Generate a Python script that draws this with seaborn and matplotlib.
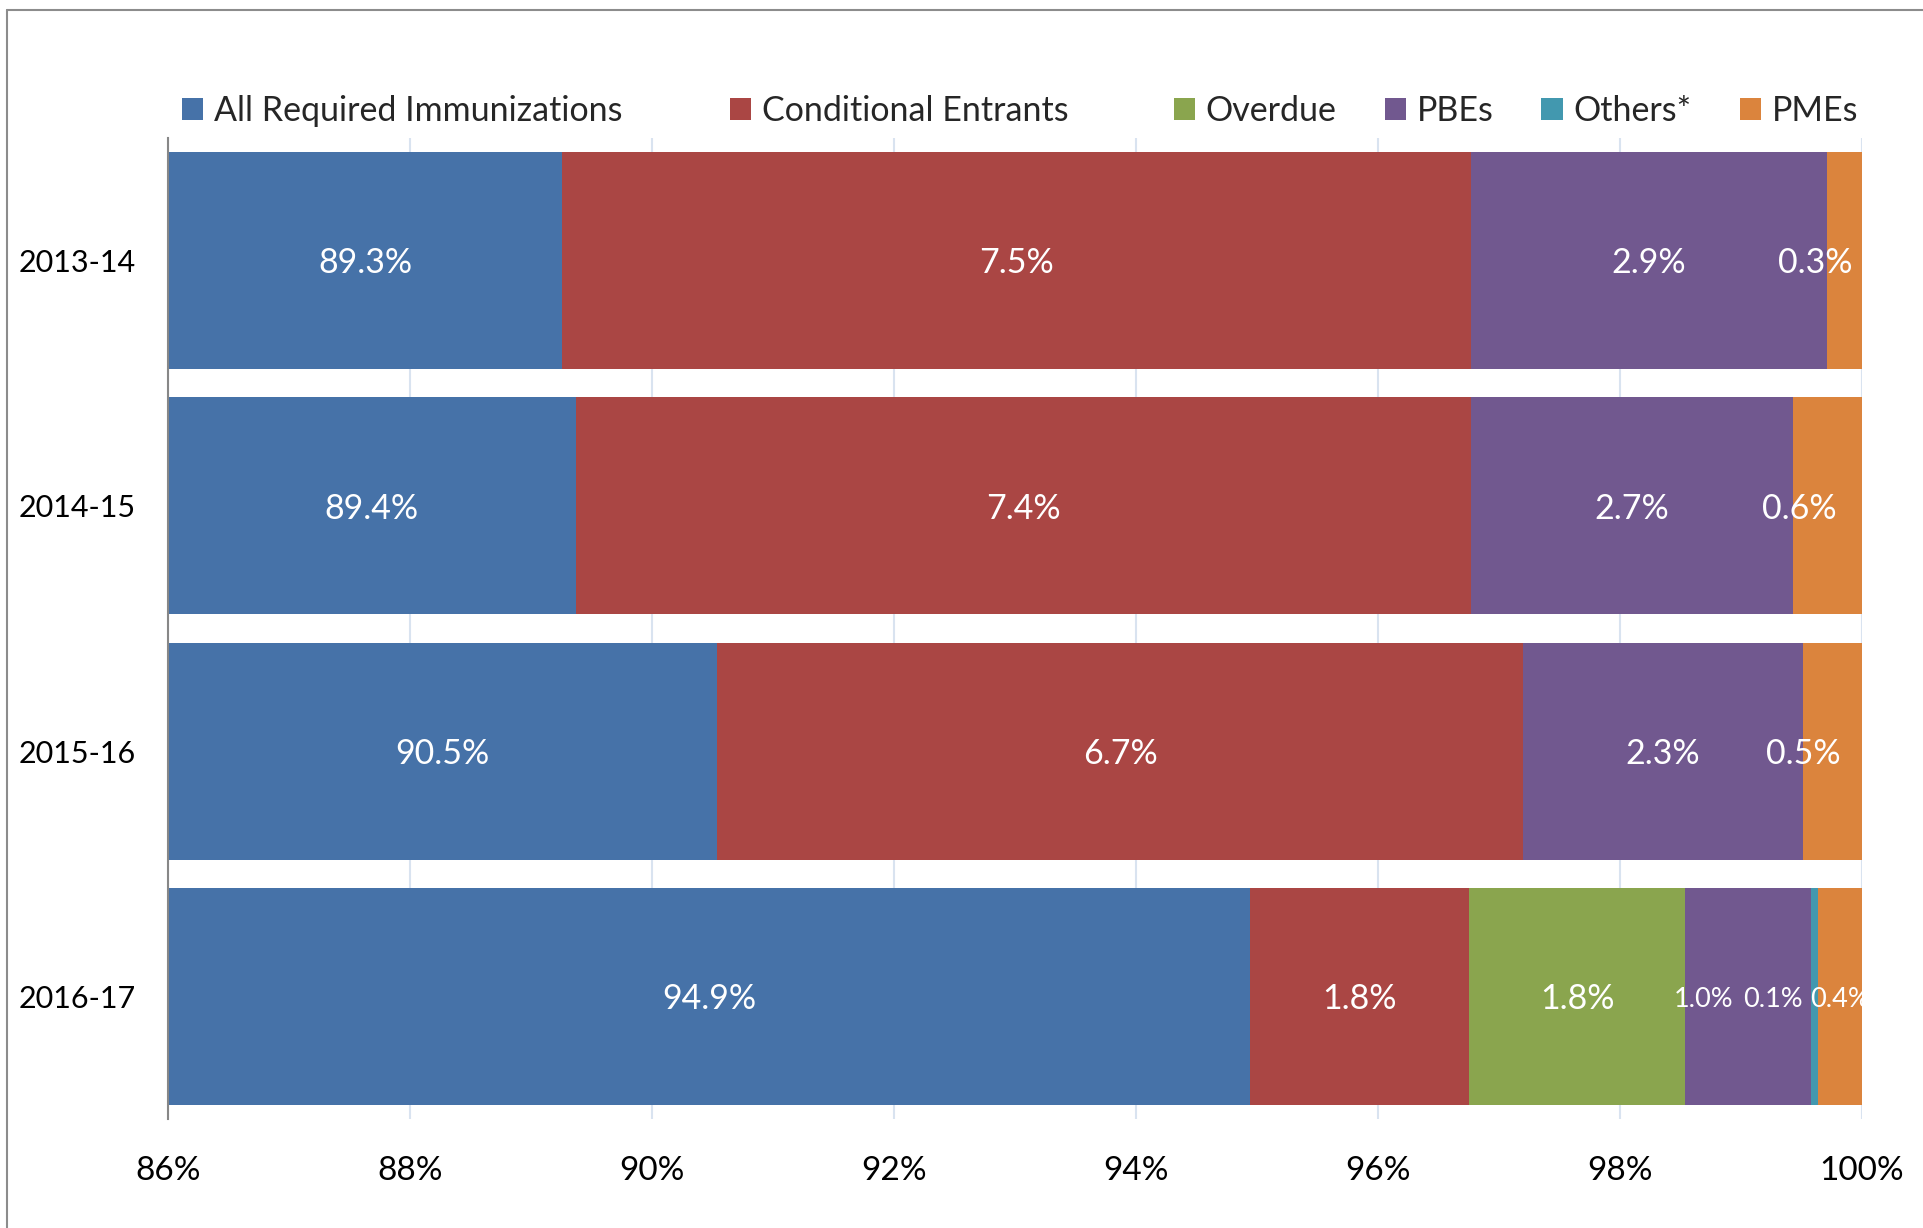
import numpy as np
import pandas as pd
import seaborn as sns
import matplotlib
matplotlib.use('Agg')
import matplotlib.pyplot as plt
import matplotlib.transforms as mtransforms
from matplotlib.patches import Patch
from matplotlib.lines import Line2D

# data (share of kindergartners, %)
years = ['2013-14', '2014-15', '2015-16', '2016-17']
all_required = [89.26, 89.37, 90.54, 94.94]
conditional = [7.51, 7.40, 6.66, 1.81]
overdue = [0.0, 0.0, 0.0, 1.79]
pbes = [2.94, 2.66, 2.31, 1.04]
others = [0.0, 0.0, 0.0, 0.06]
pmes = [0.29, 0.57, 0.49, 0.36]

series_names = ['All Required Immunizations', 'Conditional Entrants', 'Overdue',
                'PBEs', 'Others*', 'PMEs']
colors = ['#4672A8', '#AA4644', '#8AA54E', '#71588F', '#4298AF', '#DB843D']

df = pd.DataFrame(dict(zip(series_names,
                           [all_required, conditional, overdue, pbes, others, pmes])),
                  index=years)
cum = df.cumsum(axis=1)

# label tweaks for crowded segments: (year, series) -> (x shift in pt, font size)
label_tweaks = {
    ('2013-14', 'PMEs'): (-21, 24.5),
    ('2014-15', 'PMEs'): (-20, 24.5),
    ('2015-16', 'PMEs'): (-21, 24.5),
    ('2016-17', 'PBEs'): (-32, 19.5),
    ('2016-17', 'Others*'): (-30, 19.5),
    ('2016-17', 'PMEs'): (0, 19.5),
}

sns.set_style('white')
plt.rcParams['font.family'] = ['Lato', 'DejaVu Sans']

W, H = 1923, 1228
fig = plt.figure(figsize=(W / 100, H / 100), dpi=100)
ax = fig.add_axes([168 / W, 1 - 1119 / H, (1862 - 168) / W, (1119 - 138) / H])

# stacked bars: draw cumulative totals from the last series backwards
for name, col in reversed(list(zip(series_names, colors))):
    sns.barplot(x=cum[name].values, y=years, color=col, orient='h', width=0.885,
                linewidth=0, saturation=1, errorbar=None, ax=ax)

xmin, xmax = 86, 100
ax.set_xlim(xmin, xmax)
ax.set_ylim(3.5, -0.5)
ticks = list(range(86, 101, 2))
ax.set_xticks(ticks)
ax.set_xticklabels([f'{t}%' for t in ticks])
ax.set_xlabel('')
ax.set_ylabel('')

ax.xaxis.grid(True, color='#D9E3F0', linewidth=1.5)
ax.yaxis.grid(False)
ax.set_axisbelow(True)
for s in ['top', 'right', 'bottom']:
    ax.spines[s].set_visible(False)
ax.spines['left'].set_color('#878787')
ax.spines['left'].set_linewidth(1.5)
ax.tick_params(axis='x', length=0, pad=27, labelsize=24, colors='black')
ax.tick_params(axis='y', length=0, pad=23, labelsize=22, colors='black')

# data labels
for i, yr in enumerate(years):
    for name in series_names:
        v = df.loc[yr, name]
        if v <= 0:
            continue
        end = cum.loc[yr, name]
        start = max(end - v, xmin)
        xc = (start + end) / 2
        dx, fs = label_tweaks.get((yr, name), (0, 24.5))
        trans = mtransforms.offset_copy(ax.transData, fig=fig, x=dx, y=-2, units='points')
        ax.text(xc, i, f'{v:.1f}%', transform=trans, ha='center', va='center',
                color='white', fontsize=fs, clip_on=True)

# legend (two groups to follow the spacing of the original)
handles = [Patch(facecolor=c, edgecolor='none') for c in colors]
common = dict(frameon=False, fontsize=24.5, handlelength=0.62, handleheight=0.62,
              handletextpad=0.32, borderpad=0, borderaxespad=0)
fig.legend(handles[:2], series_names[:2], loc='center left',
           bbox_to_anchor=(182 / W, 1 - 111 / H), ncol=2, columnspacing=3.15, **common)
fig.legend(handles[2:], series_names[2:], loc='center right',
           bbox_to_anchor=(1858 / W, 1 - 111 / H), ncol=4, columnspacing=1.41, **common)

# outer chart border (left and top edges visible)
fig.add_artist(Line2D([7 / W, 7 / W], [0, 1 - 10 / H], transform=fig.transFigure,
                      color='#8C8C8C', linewidth=1.5))
fig.add_artist(Line2D([7 / W, 1], [1 - 10 / H, 1 - 10 / H], transform=fig.transFigure,
                      color='#8C8C8C', linewidth=1.5))

fig.savefig('out.png', dpi=100)
